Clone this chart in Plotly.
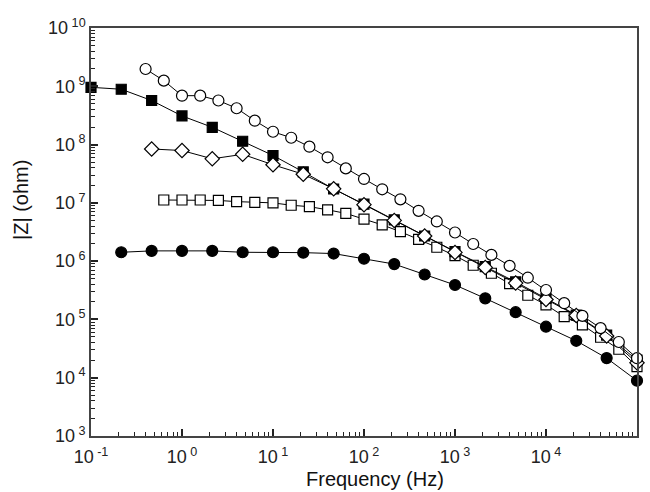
import plotly.graph_objects as go

# frequencies (Hz)
f_third = [0.1, 0.215, 0.464, 1, 2.15, 4.64, 10, 21.5, 46.4, 100, 215, 464,
           1000, 2150, 4640, 10000, 21500, 46400, 100000]
f_fifth = [0.398, 0.631, 1, 1.585, 2.512, 3.981, 6.31, 10, 15.85, 25.12, 39.81,
           63.1, 100, 158.5, 251.2, 398.1, 631, 1000, 1585, 2512, 3981, 6310,
           10000, 15850, 25120, 39810, 63100, 100000]

# |Z| (ohm)
z_filled_sq = [9.6e8, 8.9e8, 5.7e8, 3.1e8, 1.98e8, 1.14e8, 6.5e7, 3.4e7, 1.73e7,
               9.5e6, 5.1e6, 2.7e6, 1.46e6, 8.05e5, 4.4e5, 2.3e5, 1.19e5, 5.4e4, 2.0e4]
z_filled_ci = [1.42e6, 1.5e6, 1.5e6, 1.5e6, 1.42e6, 1.42e6, 1.4e6, 1.35e6, 1.1e6,
               8.9e5, 5.9e5, 3.9e5, 2.3e5, 1.33e5, 7.5e4, 4.3e4, 2.17e4, 8.9e3]
z_diamond = [8.4e7, 7.9e7, 5.7e7, 6.8e7, 4.5e7, 3.1e7, 1.74e7, 9.3e6, 5.0e6,
             2.7e6, 1.41e6, 7.8e5, 4.2e5, 2.2e5, 1.17e5, 5.2e4, 1.8e4]
z_open_ci = [1.98e9, 1.25e9, 6.9e8, 6.9e8, 5.7e8, 4.2e8, 2.57e8, 1.66e8, 1.31e8,
             9.2e7, 6.05e7, 3.9e7, 2.57e7, 1.71e7, 1.15e7, 7.3e6, 4.8e6, 3.1e6,
             1.97e6, 1.28e6, 8.3e5, 5.2e5, 3.2e5, 1.9e5, 1.15e5, 7.1e4, 4.1e4, 2.16e4]
z_open_sq = [1.12e7, 1.12e7, 1.12e7, 1.1e7, 1.05e7, 1.02e7, 1.0e7, 9.1e6, 8.6e6,
             7.6e6, 6.6e6, 5.25e6, 4.2e6, 3.2e6, 2.37e6, 1.73e6, 1.24e6, 8.5e5,
             6.2e5, 4.1e5, 2.6e5, 1.78e5, 1.12e5, 8.05e4, 4.95e4, 3.08e4, 1.55e4]

x_exps = [-1, 0, 1, 2, 3, 4, 5]
y_exps = [3, 4, 5, 6, 7, 8, 9, 10]

fig = go.Figure()

def add(x, y, symbol, fill, size=10):
    fig.add_trace(go.Scatter(
        x=x, y=y, mode="lines+markers", cliponaxis=False,
        line=dict(color="black", width=1),
        marker=dict(symbol=symbol, size=size, color=fill,
                    line=dict(color="black", width=1.2)),
        showlegend=False))

add(f_third[1:], z_filled_ci, "circle", "black", 11)
add(f_fifth[1:], z_open_sq, "square", "white", 10)
add(f_third, z_filled_sq, "square", "black", 10)
add(f_third[2:], z_diamond, "diamond", "white", 11)
add(f_fifth, z_open_ci, "circle", "white", 11)

font = "Liberation Sans, Arial"
axis_common = dict(
    type="log", showgrid=False, zeroline=False,
    showline=True, linecolor="#444", linewidth=1.5, mirror=True,
    ticks="inside", ticklen=7, tickcolor="#222", tickwidth=1.5,
    tickfont=dict(family=font, size=18, color="#222"),
    minor=dict(ticks="inside", ticklen=4, tickcolor="#222", tickwidth=1, dtick="D1"),
)

fig.update_xaxes(range=[-1, 5],
                 tickvals=[10.0 ** e for e in x_exps],
                 ticktext=[f"10<sup> {e}</sup>" for e in x_exps],
                 ticklabelstandoff=4,
                 **axis_common)
fig.update_yaxes(range=[3, 10],
                 tickvals=[10.0 ** e for e in y_exps],
                 ticktext=[f"10<sup> {e}</sup>" for e in y_exps],
                 **axis_common)

# axis titles placed where the reference has them
fig.add_annotation(text="Frequency (Hz)", xref="paper", yref="paper",
                   x=(375 - 91) / 546, y=-(479 - 436) / 408, showarrow=False,
                   xanchor="center", yanchor="middle",
                   font=dict(family=font, size=20, color="#111"))
fig.add_annotation(text="|Z| (ohm)", xref="paper", yref="paper",
                   x=-(91 - 21) / 546, y=(436 - 200) / 408, showarrow=False,
                   textangle=-90, xanchor="center", yanchor="middle",
                   font=dict(family=font, size=20, color="#111"))

fig.update_layout(width=650, height=492, plot_bgcolor="white", paper_bgcolor="white",
                  margin=dict(l=91, r=13, t=28, b=56, autoexpand=False))

fig.write_html("out.html", config={"displayModeBar": False},
               post_script="document.body.style.margin='0';")
